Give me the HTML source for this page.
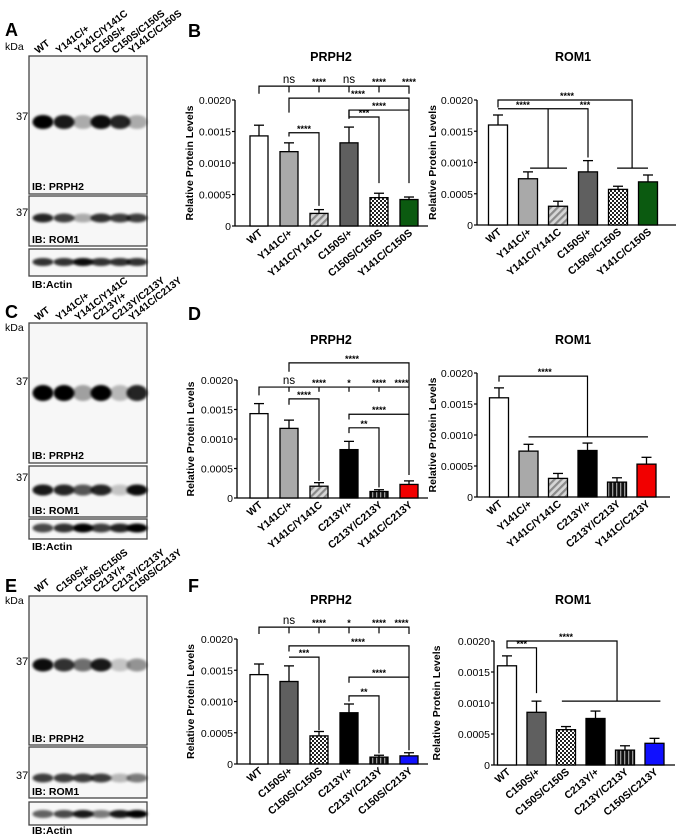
<!DOCTYPE html>
<html><head><meta charset="utf-8"><style>
html,body{margin:0;padding:0;background:#fff}
svg{display:block;font-family:"Liberation Sans",Arial,sans-serif}
</style></head><body>
<svg id="fig" width="676" height="836" viewBox="0 0 676 836" xmlns="http://www.w3.org/2000/svg">
<defs>
<filter id="blur" x="-50%" y="-50%" width="200%" height="200%"><feGaussianBlur stdDeviation="1.4"/></filter>
<pattern id="hatch" width="5" height="5" patternUnits="userSpaceOnUse" patternTransform="rotate(45)"><rect width="5" height="5" fill="#d6d6d6"/><rect width="2.2" height="5" fill="#8a8a8a"/></pattern>
<pattern id="check" width="4" height="4" patternUnits="userSpaceOnUse"><rect width="4" height="4" fill="#fff"/><rect width="2" height="2" fill="#222"/><rect x="2" y="2" width="2" height="2" fill="#222"/></pattern>
<pattern id="vstripe" width="4" height="4" patternUnits="userSpaceOnUse"><rect width="4" height="4" fill="#111"/><rect width="1.3" height="4" fill="#999"/></pattern>
</defs>
</svg>
<script>
// ---------- data ----------
const catsB = ["WT","Y141C/+","Y141C/Y141C","C150S/+","C150S/C150S","Y141C/C150S"];
const catsBrom = ["WT","Y141C/+","Y141C/Y141C","C150S/+","C150s/C150S","Y141C/C150S"];
const catsD = ["WT","Y141C/+","Y141C/Y141C","C213Y/+","C213Y/C213Y","Y141C/C213Y"];
const catsF = ["WT","C150S/+","C150S/C150S","C213Y/+","C213Y/C213Y","C150S/C213Y"];
const yTicks = [0,0.0005,0.001,0.0015,0.002];
const yTickLabels = ["0","0.0005","0.0010","0.0015","0.0020"];

const valsBp = [0.00143,0.00118,0.0002,0.00132,0.00045,0.00042];
const errsBp = [0.0016,0.00132,0.00026,0.00157,0.00052,0.00046];
const valsBr = [0.0016,0.00074,0.0003,0.00085,0.00057,0.00069];
const errsBr = [0.00176,0.00085,0.00038,0.00103,0.00062,0.0008];
const valsDp = [0.00143,0.00118,0.0002,0.00082,0.00011,0.00023];
const errsDp = [0.0016,0.00132,0.00026,0.00096,0.00014,0.00029];
const valsDr = [0.0016,0.00074,0.0003,0.00075,0.00024,0.00053];
const errsDr = [0.00176,0.00085,0.00038,0.00087,0.00031,0.00064];
const valsFp = [0.00143,0.00132,0.00045,0.00082,0.00011,0.00013];
const errsFp = [0.0016,0.00157,0.00052,0.00096,0.00014,0.00018];
const valsFr = [0.0016,0.00085,0.00057,0.00075,0.00024,0.00035];
const errsFr = [0.00176,0.00103,0.00062,0.00087,0.00031,0.00043];

// significance brackets: polylines in (bar index, value) space
const brBp = [[[0,0.0021],[0,0.00222],[5,0.00222],[5,0.0021]],[[1,0.00222],[1,0.00212]],[[2,0.00222],[2,0.00212]],[[3,0.00222],[3,0.00212]],[[4,0.00222],[4,0.00212]],
  [[1,0.0018],[1,0.00203],[5,0.00203],[5,0.00068]],[[3,0.0017],[3,0.00184],[5,0.00184]],[[3,0.00184],[3,0.00173],[4,0.00173],[4,0.00068]],[[1,0.00142],[1,0.00148],[2,0.00148],[2,0.00032]]];
const sigBp = [[1,0.00222,"ns"],[2,0.00222,"****"],[3,0.00222,"ns"],[4,0.00222,"****"],[5,0.00222,"****"],[3.3,0.00203,"****"],[4,0.00184,"****"],[3.5,0.00173,"***"],[1.5,0.00148,"****"]];
const brBr = [[[0,0.00188],[0,0.002],[4.47,0.002],[4.47,0.00091]],[[3.97,0.00091],[5.0,0.00091]],
  [[0,0.00186],[3.0,0.00186],[3.0,0.00108]],[[1.67,0.00186],[1.67,0.00091]],[[1.07,0.00091],[2.3,0.00091]]];
const sigBr = [[2.3,0.002,"****"],[0.83,0.00186,"****"],[2.9,0.00186,"***"]];
const brDp = [[[1,0.00214],[1,0.00229],[5,0.00229],[5,0.00039]],[[0,0.00174],[0,0.00188],[5,0.00188]],[[1,0.00188],[1,0.0018]],[[2,0.00188],[2,0.0018]],[[3,0.00188],[3,0.0018]],[[4,0.00188],[4,0.0018]],
  [[1,0.00158],[1,0.00168],[2,0.00168],[2,0.00029]],[[3,0.00133],[3,0.00142],[5,0.00142]],[[3,0.0011],[3,0.00119],[4,0.00119],[4,0.00018]]];
const sigDp = [[3.1,0.00229,"****"],[1,0.00188,"ns"],[2,0.00188,"****"],[3,0.00188,"*"],[4,0.00188,"****"],[4.75,0.00188,"****"],[1.5,0.00168,"****"],[4,0.00142,"****"],[3.5,0.00119,"**"]];
const brDr = [[[0,0.00186],[0,0.00195],[3.0,0.00195],[3.0,0.00097]],[[1.0,0.00097],[5.05,0.00097]]];
const sigDr = [[1.55,0.00195,"****"]];
const brFp = [[[0,0.00208],[0,0.00219],[5,0.00219],[5,0.00208]],[[1,0.00219],[1,0.00209]],[[2,0.00219],[2,0.00209]],[[3,0.00219],[3,0.00209]],[[4,0.00219],[4,0.00209]],
  [[1,0.0018],[1,0.00189],[5,0.00189],[5,0.00022]],[[1,0.00171],[2,0.00171],[2,0.00054]],[[3,0.0013],[3,0.00139],[5,0.00139]],[[3,0.001],[3,0.00109],[4,0.00109],[4,0.00017]]];
const sigFp = [[1,0.00219,"ns"],[2,0.00219,"****"],[3,0.00219,"*"],[4,0.00219,"****"],[4.75,0.00219,"****"],[3.3,0.00189,"****"],[1.5,0.00171,"***"],[4,0.00139,"****"],[3.5,0.00109,"**"]];
const brFr = [[[0,0.00188],[0,0.002],[3.73,0.002],[3.73,0.00103]],[[1.86,0.00103],[5.2,0.00103]],[[0,0.00189],[1,0.00189],[1,0.00116]]];
const sigFr = [[2.0,0.002,"****"],[0.5,0.00189,"***"]];

const fills = {"WT":"#fff","Y141C/+":"#a9a9a9","Y141C/Y141C":"url(#hatch)","C150S/+":"#5f5f5f","C150S/C150S":"url(#check)","C150s/C150S":"url(#check)",
 "Y141C/C150S":"#0b5a10","C213Y/+":"#000","C213Y/C213Y":"url(#vstripe)","Y141C/C213Y":"#f20000","C150S/C213Y":"#1010ff"};

const NS="http://www.w3.org/2000/svg";
const svg=document.getElementById("fig");
function mk(tag,attrs,parent){const e=document.createElementNS(NS,tag);for(const k in attrs)e.setAttribute(k,attrs[k]);(parent||svg).appendChild(e);return e;}
function txt(s,attrs,parent){const e=mk("text",attrs,parent);e.textContent=s;return e;}

function chart(name,g,cats,vals,errs,brs,sigs){
  const grp=mk("g",{});
  
  
  const ys=v=>g.y0-(v/0.002)*(g.y0-g.top);
  const xs=i=>g.x0+i*g.dx;
  const t=txt(g.title,{x:g.tx,y:g.ty,"text-anchor":"middle","font-size":12.5,"font-weight":"bold"},grp);
  
  
  const yt=txt("Relative Protein Levels",{transform:`translate(${g.ytx},${(g.y0+g.top)/2}) rotate(-90)`,"text-anchor":"middle","font-size":10.5,"font-weight":"bold"},grp);
  
  
  mk("line",{x1:g.ax,y1:g.top,x2:g.ax,y2:g.y0,stroke:"#000","stroke-width":1.3},grp);
  mk("line",{x1:g.ax,y1:g.y0,x2:g.xend,y2:g.y0,stroke:"#000","stroke-width":1.3},grp);
  yTicks.forEach((v,k)=>{
    mk("line",{x1:g.ax-3,y1:ys(v),x2:g.ax,y2:ys(v),stroke:"#000","stroke-width":1.2},grp);
    const l=txt(yTickLabels[k],{x:g.ax-4,y:ys(v)+4,"text-anchor":"end","font-size":10.5},grp);
    
    
  });
  cats.forEach((c,i)=>{
    const x=xs(i);
    mk("line",{x1:x,y1:ys(vals[i]),x2:x,y2:ys(errs[i]),stroke:"#000","stroke-width":1.3},grp);
    mk("line",{x1:x-5,y1:ys(errs[i]),x2:x+5,y2:ys(errs[i]),stroke:"#000","stroke-width":1.3},grp);
    const b=mk("rect",{x:x-g.bw/2,y:ys(vals[i]),width:g.bw,height:g.y0-ys(vals[i]),fill:fills[c],stroke:"#000","stroke-width":1.3},grp);
    
    
    const l=txt(c,{transform:`translate(${x+4},${g.y0+8}) rotate(-40)`,"text-anchor":"end","font-size":10.5,"font-weight":"bold"},grp);
    
    
  });
  brs.forEach(p=>{
    const pl=mk("polyline",{points:p.map(q=>xs(q[0])+","+ys(q[1])).join(" "),fill:"none",stroke:"#000","stroke-width":1.2},grp);
    
    
  });
  sigs.forEach(s=>{
    const star=s[2].indexOf("*")>=0;
    const l=txt(s[2],{x:xs(s[0]),y:ys(s[1])-(star?1:3),"text-anchor":"middle","font-size":star?9:11.5,"font-weight":star?"bold":"normal"},grp);
    
    
  });
}

chart("chart-b-prph2",{x0:259,dx:30,bw:18,ax:235,xend:428,y0:226,top:100,title:"PRPH2",tx:331,ty:61,ytx:193},catsB,valsBp,errsBp,brBp,sigBp);
chart("chart-b-rom1",{x0:498,dx:30,bw:19,ax:477,xend:676,y0:225,top:100,title:"ROM1",tx:573,ty:61,ytx:436},catsBrom,valsBr,errsBr,brBr,sigBr);
chart("chart-d-prph2",{x0:259,dx:30,bw:18,ax:237,xend:428,y0:498,top:380,title:"PRPH2",tx:331,ty:344,ytx:194},catsD,valsDp,errsDp,brDp,sigDp);
chart("chart-d-rom1",{x0:499,dx:29.5,bw:19,ax:477,xend:670,y0:497,top:373,title:"ROM1",tx:573,ty:344,ytx:436},catsD,valsDr,errsDr,brDr,sigDr);
chart("chart-f-prph2",{x0:259,dx:30,bw:18,ax:237,xend:428,y0:764,top:639,title:"PRPH2",tx:331,ty:604,ytx:194},catsF,valsFp,errsFp,brFp,sigFp);
chart("chart-f-rom1",{x0:507,dx:29.5,bw:19,ax:494,xend:675,y0:765,top:641,title:"ROM1",tx:573,ty:604,ytx:440},catsF,valsFr,errsFr,brFr,sigFr);

// ---------- western blots ----------
const laneX=[43,64,83,101,120,137];
function blot(name,cats,top,boxes){
  const grp=mk("g",{});
  
  
  cats.forEach((c,i)=>{
    const l=txt(c,{transform:`translate(${laneX[i]-5},${top}) rotate(-38)`,"font-size":10,"font-weight":"bold"},grp);
    
    
  });
  boxes.forEach(b=>{
    const r=mk("rect",{x:29,y:b.y,width:118,height:b.h,fill:"#f7f7f7",stroke:"#444","stroke-width":1.3},grp);
    
    
    b.int.forEach((v,i)=>{
      mk("ellipse",{cx:laneX[i],cy:b.band,rx:10.5,ry:b.ry,fill:"#000",opacity:v,filter:"url(#blur)"},grp);
    });
    if(b.mw) txt("37",{x:16,y:b.mw,"font-size":11},grp);
    const lb=txt(b.label,{x:32,y:b.ly,"font-size":10.5,"font-weight":"bold"},grp);
    
    
  });
}
blot("blot-a",catsB,54,[
 {y:56,h:138,band:122,ry:7,int:[1,0.9,0.3,0.95,0.85,0.3],mw:120,label:"IB: PRPH2",ly:190},
 {y:196,h:50,band:218,ry:4.5,int:[0.85,0.75,0.3,0.8,0.75,0.75],mw:216,label:"IB: ROM1",ly:243},
 {y:249,h:27,band:262,ry:4,int:[0.8,0.8,0.95,0.8,0.8,0.8],label:"IB:Actin",ly:288}]);
blot("blot-c",catsD,321,[
 {y:323,h:140,band:393,ry:8,int:[1,1,0.35,1,0.25,0.85],mw:385,label:"IB: PRPH2",ly:459},
 {y:466,h:51,band:490,ry:5.5,int:[0.9,0.85,0.65,0.85,0.2,0.95],mw:481,label:"IB: ROM1",ly:514},
 {y:519,h:20,band:528,ry:4.5,int:[0.7,0.8,1,0.75,0.85,1],label:"IB:Actin",ly:550}]);
blot("blot-e",catsF,593,[
 {y:596,h:149,band:665,ry:6.5,int:[0.95,0.8,0.55,0.9,0.2,0.4],mw:665,label:"IB: PRPH2",ly:742},
 {y:747,h:51,band:778,ry:4.5,int:[0.75,0.75,0.75,0.75,0.25,0.5],mw:779,label:"IB: ROM1",ly:795},
 {y:802,h:23,band:814,ry:4,int:[0.6,0.7,0.9,0.5,0.9,1],label:"IB:Actin",ly:834}]);
[[5,50],[5,331],[5,604]].forEach(p=>txt("kDa",{x:p[0],y:p[1],"font-size":10.5}));
[["A",5,36],["B",188,37],["C",5,318],["D",188,320],["E",5,592],["F",188,592]].forEach(p=>{
  const l=txt(p[0],{x:p[1],y:p[2],"font-size":18,"font-weight":"bold"});
  
  
});
</script>
</body></html>
